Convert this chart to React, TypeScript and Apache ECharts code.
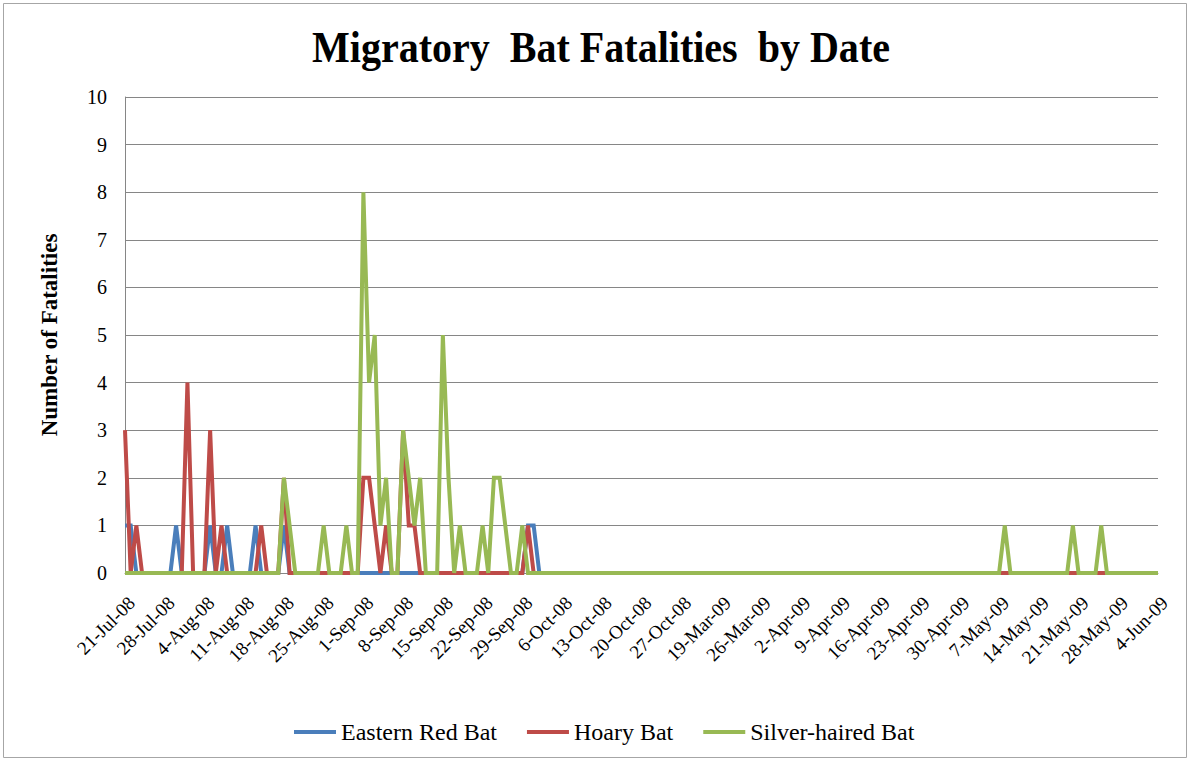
import React, { useEffect, useRef } from "react";
import * as echarts from "echarts";

// Date ranges of the (text) category axis: daily dates, winter omitted
const DATE_RANGES: [string, string][] = [
  ["2008-07-21", "2008-11-02"],
  ["2009-03-19", "2009-06-04"],
];

const Y_TICKS = [0, 1, 2, 3, 4, 5, 6, 7, 8, 9, 10];

// one row per week (7 days), last row = 4-Jun-09
const easternRedBat = [
  1, 1, 0, 0, 0, 0, 0,
  0, 0, 1, 0, 0, 0, 0,
  0, 1, 0, 0, 1, 0, 0,
  0, 0, 1, 0, 0, 0, 0,
  1, 0, 0, 0, 0, 0, 0,
  0, 0, 0, 0, 0, 0, 0,
  0, 0, 0, 0, 0, 0, 0,
  0, 0, 0, 0, 0, 0, 0,
  0, 0, 0, 0, 0, 0, 0,
  0, 0, 0, 0, 0, 0, 0,
  0, 1, 1, 0, 0, 0, 0,
  0, 0, 0, 0, 0, 0, 0,
  0, 0, 0, 0, 0, 0, 0,
  0, 0, 0, 0, 0, 0, 0,
  0, 0, 0, 0, 0, 0, 0,
  0, 0, 0, 0, 0, 0, 0,
  0, 0, 0, 0, 0, 0, 0,
  0, 0, 0, 0, 0, 0, 0,
  0, 0, 0, 0, 0, 0, 0,
  0, 0, 0, 0, 0, 0, 0,
  0, 0, 0, 0, 0, 0, 0,
  0, 0, 0, 0, 0, 0, 0,
  0, 0, 0, 0, 0, 0, 0,
  0, 0, 0, 0, 0, 0, 0,
  0, 0, 0, 0, 0, 0, 0,
  0, 0, 0, 0, 0, 0, 0,
  0,
];

const hoaryBat = [
  3, 0, 1, 0, 0, 0, 0,
  0, 0, 0, 0, 4, 0, 0,
  0, 3, 0, 1, 0, 0, 0,
  0, 0, 0, 1, 0, 0, 0,
  2, 0, 0, 0, 0, 0, 0,
  0, 0, 0, 0, 0, 0, 0,
  2, 2, 1, 0, 1, 0, 0,
  3, 1, 1, 0, 0, 0, 0,
  0, 0, 0, 0, 0, 0, 0,
  0, 0, 0, 0, 0, 0, 0,
  0, 1, 0, 0, 0, 0, 0,
  0, 0, 0, 0, 0, 0, 0,
  0, 0, 0, 0, 0, 0, 0,
  0, 0, 0, 0, 0, 0, 0,
  0, 0, 0, 0, 0, 0, 0,
  0, 0, 0, 0, 0, 0, 0,
  0, 0, 0, 0, 0, 0, 0,
  0, 0, 0, 0, 0, 0, 0,
  0, 0, 0, 0, 0, 0, 0,
  0, 0, 0, 0, 0, 0, 0,
  0, 0, 0, 0, 0, 0, 0,
  0, 0, 0, 0, 0, 0, 0,
  0, 0, 0, 0, 0, 0, 0,
  0, 0, 0, 0, 0, 0, 0,
  0, 0, 0, 0, 0, 0, 0,
  0, 0, 0, 0, 0, 0, 0,
  0,
];

const silverHairedBat = [
  0, 0, 0, 0, 0, 0, 0,
  0, 0, 0, 0, 0, 0, 0,
  0, 0, 0, 0, 0, 0, 0,
  0, 0, 0, 0, 0, 0, 0,
  2, 1, 0, 0, 0, 0, 0,
  1, 0, 0, 0, 1, 0, 0,
  8, 4, 5, 1, 2, 0, 0,
  3, 2, 1, 2, 0, 0, 0,
  5, 2, 0, 1, 0, 0, 0,
  1, 0, 2, 2, 1, 0, 0,
  1, 0, 0, 0, 0, 0, 0,
  0, 0, 0, 0, 0, 0, 0,
  0, 0, 0, 0, 0, 0, 0,
  0, 0, 0, 0, 0, 0, 0,
  0, 0, 0, 0, 0, 0, 0,
  0, 0, 0, 0, 0, 0, 0,
  0, 0, 0, 0, 0, 0, 0,
  0, 0, 0, 0, 0, 0, 0,
  0, 0, 0, 0, 0, 0, 0,
  0, 0, 0, 0, 0, 0, 0,
  0, 0, 0, 0, 0, 0, 0,
  0, 0, 0, 0, 0, 0, 0,
  0, 1, 0, 0, 0, 0, 0,
  0, 0, 0, 0, 0, 0, 1,
  0, 0, 0, 0, 1, 0, 0,
  0, 0, 0, 0, 0, 0, 0,
  0,
];

const SERIES_NAMES = ["Eastern Red Bat", "Hoary Bat", "Silver-haired Bat"];
const SERIES_COLORS = ["#4A7EBB", "#BE4B48", "#98B954"];

const MONTHS = ["Jan", "Feb", "Mar", "Apr", "May", "Jun", "Jul", "Aug", "Sep", "Oct", "Nov", "Dec"];

function buildCategories(): string[] {
  const out: string[] = [];
  for (const [a, b] of DATE_RANGES) {
    const end = new Date(b + "T00:00:00Z").getTime();
    for (let t = new Date(a + "T00:00:00Z").getTime(); t <= end; t += 86400000) {
      const d = new Date(t);
      const yy = String(d.getUTCFullYear() % 100).padStart(2, "0");
      out.push(`${d.getUTCDate()}-${MONTHS[d.getUTCMonth()]}-${yy}`);
    }
  }
  return out;
}

const SERIF = "'Liberation Serif', 'DejaVu Serif', serif";

export default function App() {
  const ref = useRef<HTMLDivElement>(null);
  useEffect(() => {
    if (!ref.current) return;
    const chart = echarts.init(ref.current, undefined, { renderer: "svg" });
    const categories = buildCategories();
    const data = [easternRedBat, hoaryBat, silverHairedBat];
    chart.setOption({
      animation: false,
      backgroundColor: "#ffffff",
      graphic: [
        {
          type: "rect",
          shape: { x: 3.5, y: 3.5, width: 1183, height: 754 },
          style: { fill: "none", stroke: "#a6a6a6", lineWidth: 1 },
          z: -1,
        },
        {
          type: "text",
          x: 601,
          y: 47,
          scaleX: 0.91,
          style: {
            text: "Migratory  Bat Fatalities  by Date",
            font: `bold 44px ${SERIF}`,
            fill: "#000",
            textAlign: "center",
            textVerticalAlign: "middle",
          },
        },
        {
          type: "text",
          x: 49,
          y: 335,
          rotation: Math.PI / 2,
          style: {
            text: "Number of Fatalities",
            font: `bold 23px ${SERIF}`,
            fill: "#000",
            textAlign: "center",
            textVerticalAlign: "middle",
          },
        },
      ],
      legend: {
        data: SERIES_NAMES,
        left: 294,
        top: 720,
        icon: "rect",
        itemWidth: 42,
        itemHeight: 4,
        itemGap: 30,
        padding: 0,
        textStyle: { fontFamily: SERIF, fontSize: 24, color: "#000" },
      },
      grid: { left: 125, right: 32, top: 97, bottom: 188, containLabel: false },
      xAxis: {
        type: "category",
        data: categories,
        boundaryGap: false,
        axisLine: { show: true, lineStyle: { color: "#868686", width: 1 } },
        axisTick: { show: false },
        axisLabel: {
          interval: 6,
          rotate: 45,
          margin: 20,
          verticalAlign: "top",
          fontFamily: SERIF,
          fontSize: 19,
          color: "#000",
        },
        splitLine: { show: false },
      },
      yAxis: {
        type: "value",
        min: Y_TICKS[0],
        max: Y_TICKS[Y_TICKS.length - 1],
        interval: 1,
        axisLine: { show: true, lineStyle: { color: "#868686", width: 1 } },
        axisTick: { show: false },
        axisLabel: { margin: 18, fontFamily: SERIF, fontSize: 20, color: "#000" },
        splitLine: { show: true, lineStyle: { color: "#868686", width: 1 } },
      },
      series: SERIES_NAMES.map((name, i) => ({
        name,
        type: "line",
        data: data[i],
        symbol: "none",
        showSymbol: false,
        color: SERIES_COLORS[i],
        lineStyle: { color: SERIES_COLORS[i], width: 4, join: "miter", miterLimit: 10 },
        z: 2 + i,
      })),
    });
    return () => chart.dispose();
  }, []);
  return (
    <div
      ref={ref}
      style={{ position: "fixed", left: 0, top: 0, width: 1190, height: 761, background: "#fff" }}
    />
  );
}
